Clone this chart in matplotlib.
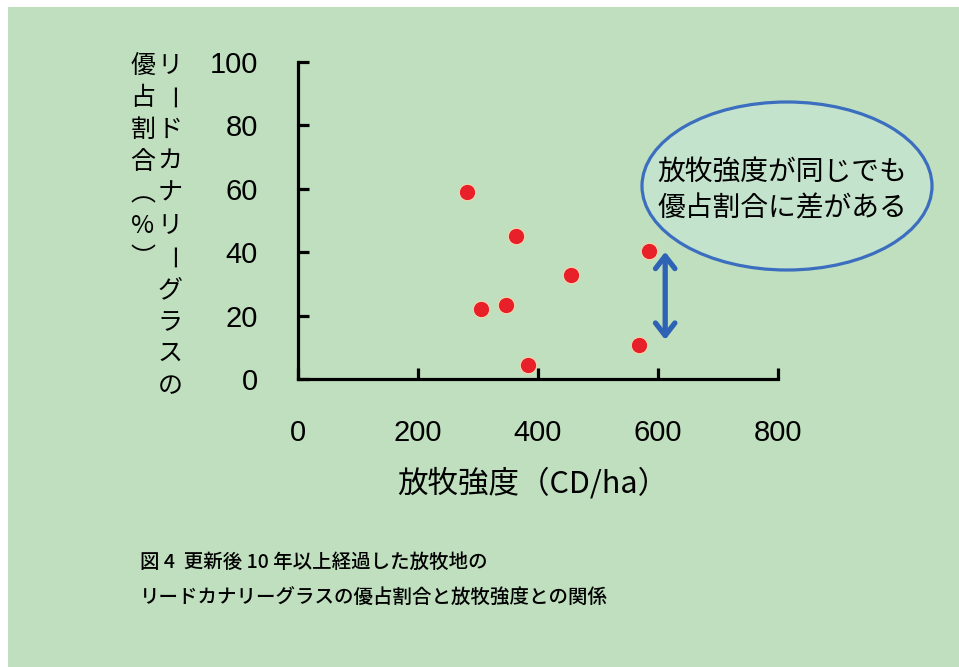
import matplotlib.pyplot as plt
from matplotlib.patches import Ellipse, FancyArrowPatch, Rectangle

# grazing intensity (CD/ha) vs dominance ratio of reed canarygrass (%)
grazing = [282, 305, 347, 363, 383, 455, 568, 585]
dominance = [59, 22, 23.3, 45, 4.4, 32.8, 10.7, 40.4]

x_ticks = [0, 200, 400, 600, 800]
y_ticks = [0, 20, 40, 60, 80, 100]

# arrow marking the gap at the same grazing intensity
arrow_x = 612
arrow_y = (11.5, 41)

ylabel_right = "リードカナリーグラスの"
ylabel_left = "優占割合︵%︶"
xlabel = "放牧強度（CD/ha）"
note_lines = ["放牧強度が同じでも", "優占割合に差がある"]
caption = ["図 4  更新後 10 年以上経過した放牧地の",
           "リードカナリーグラスの優占割合と放牧強度との関係"]

bg = "#bfdfbf"
jp = ["Noto Sans CJK JP", "DejaVu Sans"]

fig = plt.figure(figsize=(9.59, 6.67), dpi=100, facecolor="white")
fig.patches.append(Rectangle((8 / 959, 0), 1, 1 - 7 / 667, transform=fig.transFigure,
                             facecolor=bg, edgecolor="none", zorder=-10))

ax = fig.add_axes([298 / 959, 1 - 379 / 667, 480 / 959, 317 / 667])
ax.set_facecolor("none")
ax.scatter(grazing, dominance, s=140, color="#e8202a", edgecolors="#f3d9b0",
           linewidths=0.8, zorder=3, clip_on=False)

ax.add_patch(FancyArrowPatch((arrow_x, arrow_y[0]), (arrow_x, arrow_y[1]),
                             arrowstyle="<->,head_length=0.45,head_width=0.35",
                             mutation_scale=20, color="#2e62b5", lw=3.8, zorder=4))

ax.set_xlim(0, 800)
ax.set_ylim(0, 100)
ax.set_xticks(x_ticks)
ax.set_yticks(y_ticks)
for side in ["top", "right"]:
    ax.spines[side].set_visible(False)
for side in ["left", "bottom"]:
    ax.spines[side].set_linewidth(2.3)
    ax.spines[side].set_color("black")
ax.tick_params(direction="in", length=8, width=2.3, pad=29, labelsize=21,
               labelfontfamily="Liberation Sans", colors="black")

# vertical y label, two columns
for i, ch in enumerate(ylabel_right):
    rot = -90 if ch == "ー" else 0
    fig.text(170 / 959, 1 - (66 + 32 * i) / 667, ch, ha="center", va="center",
             fontsize=18, family=jp, rotation=rot)
for i, ch in enumerate(ylabel_left):
    fig.text(143 / 959, 1 - (66 + 32 * i) / 667, ch, ha="center", va="center",
             fontsize=18, family=jp)

fig.text(533 / 959, 1 - 484 / 667, xlabel, ha="center", va="center",
         fontsize=22, family=jp)

# callout ellipse
fig.patches.append(Ellipse((787 / 959, 1 - 186 / 667), 290 / 959, 168 / 667,
                           transform=fig.transFigure, facecolor="#c4e3cd",
                           edgecolor="#3c6ec0", lw=2.3, zorder=2))
fig.text(782 / 959, 1 - 172 / 667, note_lines[0], ha="center", va="center",
         fontsize=20, family=jp, zorder=5)
fig.text(782 / 959, 1 - 208 / 667, note_lines[1], ha="center", va="center",
         fontsize=20, family=jp, zorder=5)

fig.text(140 / 959, 1 - 562 / 667, caption[0], ha="left", va="center",
         fontsize=14, family=jp, weight="medium")
fig.text(140 / 959, 1 - 598 / 667, caption[1], ha="left", va="center",
         fontsize=14, family=jp, weight="medium")

fig.savefig("out.png", dpi=100, facecolor="white")
